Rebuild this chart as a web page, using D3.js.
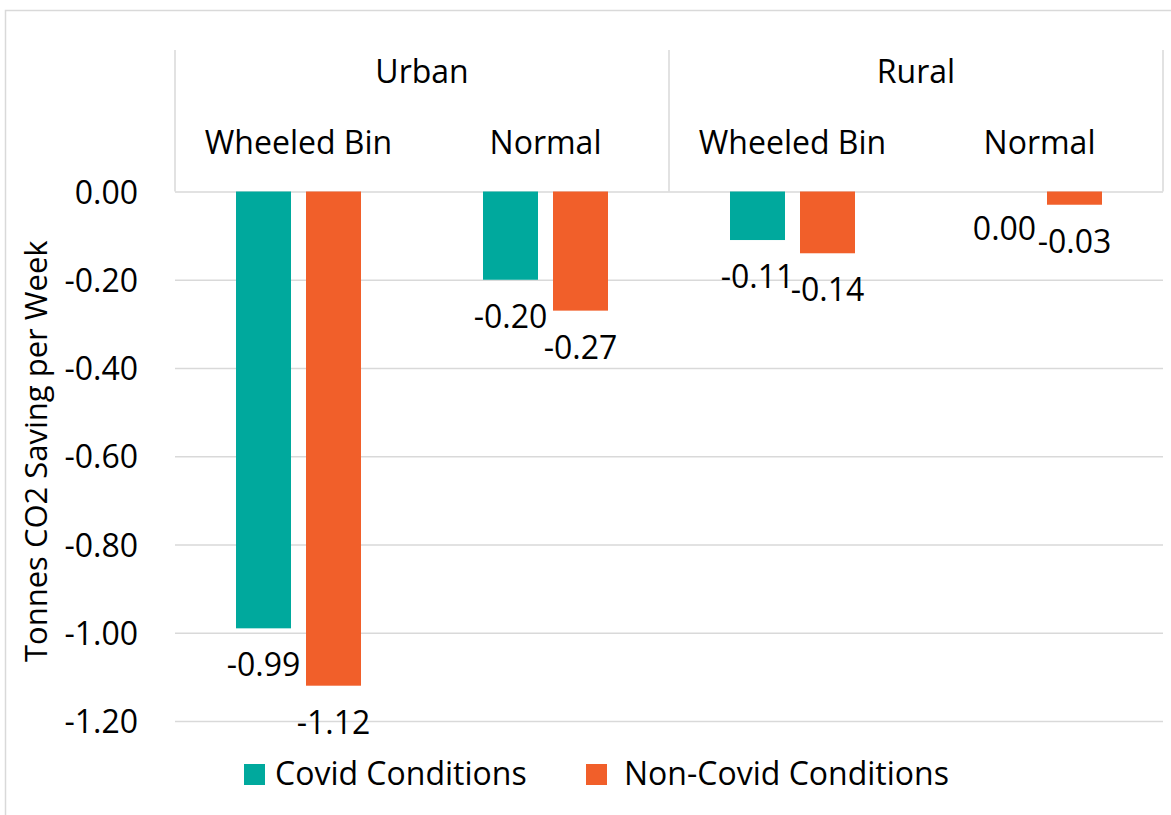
<!DOCTYPE html>
<html>
<head>
<meta charset="utf-8">
<script src="https://cdn.jsdelivr.net/npm/d3@7"></script>
<style>
  html, body { margin: 0; padding: 0; background: #fff; }
  svg { display: block; }
  text { font-family: "Open Sans", sans-serif; fill: #000; }
</style>
</head>
<body>
<svg id="chart" width="1171" height="815"></svg>
<script>
// ---- data ----
const groups = ["Urban", "Rural"];
const categoryGroup = ["Urban", "Urban", "Rural", "Rural"];
const categoryType = ["Wheeled Bin", "Normal", "Wheeled Bin", "Normal"];
const seriesNames = ["Covid Conditions", "Non-Covid Conditions"];
const covidValues = [-0.99, -0.20, -0.11, 0.00];
const nonCovidValues = [-1.12, -0.27, -0.14, -0.03];
const yTickValues = [0, -0.2, -0.4, -0.6, -0.8, -1.0, -1.2];
const yAxisTitle = "Tonnes CO2 Saving per Week";

// ---- layout ----
const colors = ["#00A99D", "#F15F2A"];
const plotLeft = 175, plotRight = 1163, headerTop = 50;
const yTop = 191.5, yBottom = 721;
const fontSize = 32;
const gridColor = "#d9d9d9";

const fmt = d3.formatLocale({decimal: ".", thousands: ",", grouping: [3], currency: ["", ""], minus: "-"}).format(".2f");

const svg = d3.select("#chart");

// outer chart border
svg.append("rect")
  .attr("x", 5.5).attr("y", 10.5).attr("width", 1300).attr("height", 1000)
  .attr("fill", "none").attr("stroke", gridColor).attr("stroke-width", 1.5);

const catKeys = categoryType.map((t, i) => categoryGroup[i] + "|" + t);
const x0 = d3.scaleBand().domain(catKeys).range([plotLeft, plotRight]).padding(0);
const barW = 55, barGap = 15;
const x1 = d3.scaleBand().domain(seriesNames)
  .range([0, x0.bandwidth()])
  .paddingInner(barGap / (barW + barGap))
  .paddingOuter(((x0.bandwidth() / (barW + barGap)) - 2 + barGap / (barW + barGap)) / 2);
const y = d3.scaleLinear().domain([-1.2, 0]).range([yBottom, yTop]);

// gridlines
const grid = svg.append("g").attr("transform", `translate(${plotLeft},0)`)
  .call(d3.axisLeft(y).tickValues(yTickValues).tickSize(-(plotRight - plotLeft)).tickFormat(""));
grid.select(".domain").remove();
grid.selectAll("line").attr("stroke", gridColor).attr("stroke-width", 1.5);

// header box vertical lines (group separators)
const groupBounds = groups.map(g => {
  const keys = catKeys.filter((k, i) => categoryGroup[i] === g);
  return [x0(keys[0]), x0(keys[keys.length - 1]) + x0.bandwidth()];
});
const sepX = [plotLeft];
groupBounds.forEach(b => sepX.push(b[1]));
svg.append("g").selectAll("line").data(sepX).join("line")
  .attr("x1", d => d).attr("x2", d => d)
  .attr("y1", headerTop).attr("y2", yTop)
  .attr("stroke", gridColor).attr("stroke-width", 1.5);

// group labels
svg.append("g").selectAll("text").data(groups).join("text")
  .attr("x", (d, i) => (groupBounds[i][0] + groupBounds[i][1]) / 2)
  .attr("y", 83)
  .attr("text-anchor", "middle")
  .attr("font-size", fontSize)
  .text(d => d);

// category labels
svg.append("g").selectAll("text").data(catKeys).join("text")
  .attr("x", d => x0(d) + x0.bandwidth() / 2)
  .attr("y", 154)
  .attr("text-anchor", "middle")
  .attr("font-size", fontSize)
  .text((d, i) => categoryType[i]);

// y axis tick labels
const yAxis = svg.append("g").attr("transform", `translate(${plotLeft},0)`)
  .call(d3.axisLeft(y).tickValues(yTickValues).tickSize(0).tickPadding(37).tickFormat(fmt));
yAxis.select(".domain").remove();
yAxis.selectAll("text")
  .attr("font-size", fontSize)
  .attr("font-family", "'Open Sans', sans-serif")
  .attr("fill", "#000")
  .attr("dy", "0.36em");

// y axis title
svg.append("text")
  .attr("transform", `translate(47,${(yTop + yBottom) / 2 - 5}) rotate(-90)`)
  .attr("text-anchor", "middle")
  .attr("font-size", 31)
  .text(yAxisTitle);

// bars
const seriesValues = [covidValues, nonCovidValues];
const barData = [];
catKeys.forEach((k, i) => {
  seriesNames.forEach((s, j) => barData.push({key: k, series: s, si: j, value: seriesValues[j][i]}));
});
const bars = svg.append("g");
bars.selectAll("rect").data(barData).join("rect")
  .attr("x", d => x0(d.key) + x1(d.series))
  .attr("y", d => y(Math.max(0, d.value)))
  .attr("width", x1.bandwidth())
  .attr("height", d => Math.abs(y(d.value) - y(0)))
  .attr("fill", d => colors[d.si]);

// data labels (outside end)
bars.selectAll("text").data(barData).join("text")
  .attr("x", d => x0(d.key) + x1(d.series) + x1.bandwidth() / 2)
  .attr("y", d => y(d.value) + 48)
  .attr("text-anchor", "middle")
  .attr("font-size", fontSize)
  .text(d => fmt(d.value));

// legend
const legendX = [244, 586];
const legendTextOffset = [31, 38];
const legend = svg.append("g").selectAll("g").data(seriesNames).join("g")
  .attr("transform", (d, i) => `translate(${legendX[i]},764)`);
legend.append("rect").attr("width", 21).attr("height", 21).attr("fill", (d, i) => colors[i]);
legend.append("text").attr("x", (d, i) => legendTextOffset[i]).attr("y", 21).attr("font-size", fontSize).text(d => d);
</script>
</body>
</html>
